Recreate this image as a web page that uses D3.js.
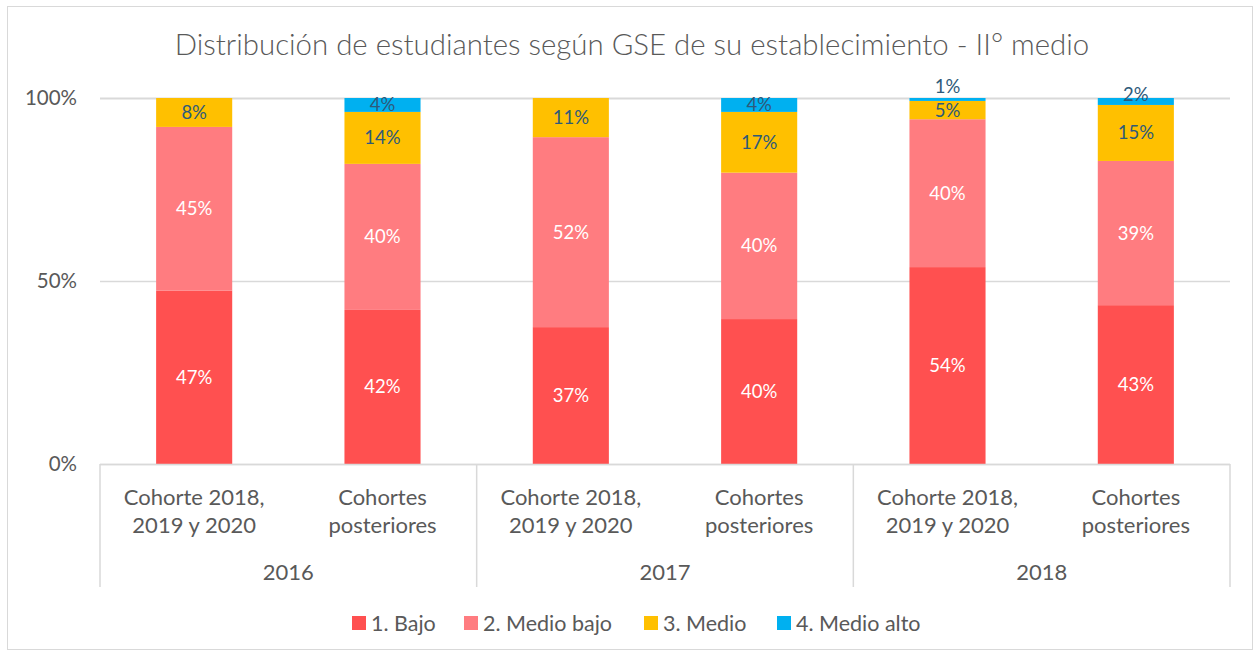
<!DOCTYPE html>
<html><head><meta charset="utf-8">
<script src="https://cdn.jsdelivr.net/npm/d3@7"></script>
<style>
html,body{margin:0;padding:0;background:#fff;}
svg{display:block;font-family:"Lato","Open Sans",sans-serif;}
</style></head>
<body>
<svg id="chart" width="1260" height="656"></svg>
<script>
const title = "Distribución de estudiantes según GSE de su establecimiento - II° medio";
const years = ["2016", "2017", "2018"];
const cohorts = [["Cohorte 2018,", "2019 y 2020"], ["Cohortes", "posteriores"]];
const series = ["1. Bajo", "2. Medio bajo", "3. Medio", "4. Medio alto"];
const colors = ["#FF5050", "#FF7C80", "#FFC000", "#00B0F0"];
const labelColors = ["#FFFFFF", "#FFFFFF", "#2E5A7A", "#2E5A7A"];
// values per bar, in order: 2016 C1, 2016 C2, 2017 C1, 2017 C2, 2018 C1, 2018 C2
const bajo      = [47.4, 42.1, 37.4, 39.6, 53.8, 43.4];
const medioBajo = [44.7, 39.9, 51.9, 40.0, 40.4, 39.4];
const medio     = [7.9, 14.2, 10.7, 16.6, 5.0, 15.3];
const medioAlto = [0, 3.8, 0, 3.8, 0.8, 1.9];
const yTicks = [0, 50, 100];

(function () {
const svg = d3.select("#chart");
const pLeft = 100, pRight = 1230, pTop = 98, pBottom = 464;

svg.append("rect").attr("x", 7.5).attr("y", 6.5).attr("width", 1245).attr("height", 643)
  .attr("fill", "#fff").attr("stroke", "#D9D9D9").attr("stroke-width", 1);

// title
const tt = svg.append("text").attr("x", 632).attr("y", 55).attr("text-anchor", "middle")
  .attr("fill", "#595959").style("font-weight", 300).style("font-size", "26px").text(title);
const tw = tt.node().getComputedTextLength();
tt.style("font-size", (26 * 915 / tw).toFixed(2) + "px");

const bars = [];
years.forEach((y, i) => cohorts.forEach((c, j) => bars.push({year: y, cohort: c, key: y + "|" + j})));
const allVals = [bajo, medioBajo, medio, medioAlto];

const x = d3.scaleBand().domain(bars.map(b => b.key)).range([pLeft, pRight])
  .paddingInner(0.596).paddingOuter(0.298);
const xYear = d3.scaleBand().domain(years).range([pLeft, pRight]).padding(0);
const yScale = d3.scaleLinear().domain([0, 100]).range([pBottom, pTop]);

// gridlines
svg.append("g").selectAll("line").data(yTicks).join("line")
  .attr("x1", pLeft).attr("x2", pRight)
  .attr("y1", d => Math.round(yScale(d)) + 0.5).attr("y2", d => Math.round(yScale(d)) + 0.5)
  .attr("stroke", "#D9D9D9").attr("stroke-width", d => d === 100 ? 2 : 1.3);

// y tick labels
svg.append("g").selectAll("text").data(yTicks).join("text")
  .attr("x", 77).attr("y", d => yScale(d)).attr("dy", "0.35em").attr("text-anchor", "end")
  .attr("fill", "#595959").style("font-size", "20.5px").text(d => d + "%");

// stacked
const stackData = bars.map((b, i) => {
  const o = {key: b.key};
  series.forEach((s, k) => o[s] = allVals[k][i]);
  return o;
});
const stacked = d3.stack().keys(series)(stackData);

const gBars = svg.append("g");
stacked.forEach((layer, k) => {
  gBars.append("g").selectAll("rect").data(layer).join("rect")
    .attr("x", d => x(d.data.key)).attr("width", x.bandwidth())
    .attr("y", d => yScale(d[1])).attr("height", d => Math.max(0, yScale(d[0]) - yScale(d[1])))
    .attr("fill", colors[k]);
});

// labels
const gLab = svg.append("g").style("font-size", "18.5px");
bars.forEach((b, i) => {
  let lowerY = null;
  stacked.forEach((layer, k) => {
    const d = layer[i];
    const v = d[1] - d[0];
    if (v <= 0) return;
    const y0 = yScale(d[0]), y1 = yScale(d[1]);
    const h = y0 - y1;
    let ly = (y0 + y1) / 2;
    if (h < 10) {
      ly = y1 - 3;
      if (lowerY !== null && lowerY - ly < 22) ly = lowerY - 24;
    }
    gLab.append("text").attr("x", x(b.key) + x.bandwidth() / 2).attr("y", ly).attr("dy", "0.35em")
      .attr("text-anchor", "middle").attr("fill", labelColors[k]).text(Math.round(v) + "%");
    lowerY = ly;
  });
});

// axis lines
const gAx = svg.append("g").attr("stroke", "#D9D9D9").attr("stroke-width", 1.5);
gAx.append("line").attr("x1", pLeft).attr("x2", pRight).attr("y1", pBottom + 0.5).attr("y2", pBottom + 0.5);
const seps = years.map(y => xYear(y)).concat([pRight]);
gAx.selectAll("line.sep").data(seps).join("line").attr("class", "sep")
  .attr("x1", d => d).attr("x2", d => d).attr("y1", pBottom).attr("y2", 587);

// category labels
const gCat = svg.append("g").attr("fill", "#595959").style("font-size", "22px").attr("text-anchor", "middle");
bars.forEach(b => {
  const cx = x(b.key) + x.bandwidth() / 2;
  b.cohort.forEach((line, li) => {
    gCat.append("text").attr("x", cx).attr("y", 497 + li * 28).attr("dy", "0.35em").text(line);
  });
});
gCat.selectAll("text.yr").data(years).join("text").attr("class", "yr")
  .attr("x", d => xYear(d) + xYear.bandwidth() / 2).attr("y", 572).attr("dy", "0.35em").text(d => d);

// legend
const legendX = [352, 464, 644, 777];
const gLeg = svg.append("g").style("font-size", "21.5px");
series.forEach((s, k) => {
  gLeg.append("rect").attr("x", legendX[k]).attr("y", 616).attr("width", 14).attr("height", 14).attr("fill", colors[k]);
  gLeg.append("text").attr("x", legendX[k] + 19).attr("y", 623).attr("dy", "0.35em")
    .attr("fill", "#595959").text(s);
});
})();
</script>
</body></html>
